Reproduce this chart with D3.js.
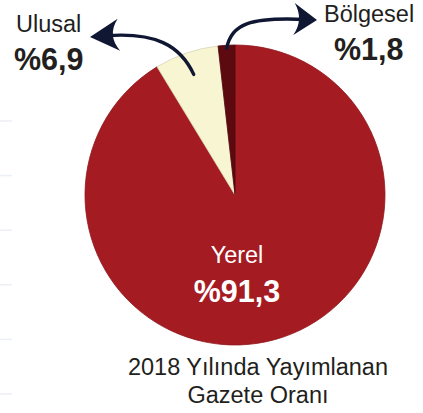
<!DOCTYPE html>
<html lang="tr">
  <head>
    <meta charset="utf-8" />
    <title>2018 Yılında Yayımlanan Gazete Oranı</title>
    <script src="https://d3js.org/d3.v7.min.js"></script>
    <style>
      body { margin: 0; background: #fff; }
      text { font-family: "Liberation Sans", Arial, sans-serif; fill: #231f20; }
      .name { font-size: 23.5px; }
      .pct { font-size: 30.5px; font-weight: bold; }
      .caption { font-size: 23.5px; }
      .faint { stroke: #eceff5; stroke-width: 1.5; }
    </style>
  </head>
  <body>
    <svg width="423" height="413"></svg>
    <script>
      // data, clockwise from 12 o'clock
      const categories = ["Yerel", "Ulusal", "Bölgesel"];
      const shares = [91.3, 6.9, 1.8];
      const labels = ["%91,3", "%6,9", "%1,8"];
      const colours = ["#a51b22", "#f8f5d2", "#5c0a10"];

      const width = 423, height = 413;
      const cx = 235, cy = 195, radius = 150;

      const svg = d3.select("svg");

      // faint leftover gridline stubs on the left edge
      const yFaint = d3.scaleLinear().domain([0, 5]).range([121, 394]);
      svg.append("g")
        .selectAll("line")
        .data(d3.range(6))
        .join("line")
        .attr("class", "faint")
        .attr("x1", 0)
        .attr("x2", 12)
        .attr("y1", d => yFaint(d))
        .attr("y2", d => yFaint(d));

      const data = categories.map((c, i) => ({ name: c, value: shares[i], label: labels[i], colour: colours[i] }));

      const pie = d3.pie().sort(null).value(d => d.value);
      const arcs = pie(data);
      const arc = d3.arc().innerRadius(0).outerRadius(radius);

      const g = svg.append("g").attr("transform", `translate(${cx},${cy})`);
      g.selectAll("path")
        .data(arcs)
        .join("path")
        .attr("d", arc)
        .attr("fill", d => d.data.colour)
        .attr("stroke", d => d3.color(d.data.colour).darker(0.4))
        .attr("stroke-width", 0.8);

      // point on the pie for a given slice, at fraction of radius
      function piePoint(a, f) {
        const ang = (a.startAngle + a.endAngle) / 2;
        return [cx + Math.sin(ang) * radius * f, cy - Math.cos(ang) * radius * f];
      }

      const arrowColour = "#0f1733";
      // curved arrow: cubic from start to tip, swept arrowhead at tip
      function drawArrow(start, c1, c2, tip, headLen, halfW) {
        const dx = tip[0] - c2[0], dy = tip[1] - c2[1];
        const len = Math.hypot(dx, dy);
        const ux = dx / len, uy = dy / len;
        const px = -uy, py = ux;
        const notch = [tip[0] - ux * headLen * 0.65, tip[1] - uy * headLen * 0.65];
        const b1 = [tip[0] - ux * headLen + px * halfW, tip[1] - uy * headLen + py * halfW];
        const b2 = [tip[0] - ux * headLen - px * halfW, tip[1] - uy * headLen - py * halfW];
        svg.append("path")
          .attr("d", `M${start}C${c1} ${c2} ${notch[0] + ux * 3},${notch[1] + uy * 3}`)
          .attr("fill", "none")
          .attr("stroke", arrowColour)
          .attr("stroke-width", 3.4)
          .attr("stroke-linecap", "round");
        svg.append("path")
          .attr("d", `M${tip}L${b1}Q${notch[0] + ux * 2},${notch[1] + uy * 2} ${b2}Z`)
          .attr("fill", arrowColour);
      }

      drawArrow(piePoint(arcs[1], 0.85), [180, 45], [155, 32], [90, 37], 29, 16);
      drawArrow(piePoint(arcs[2], 0.98), [231, 24], [250, 17], [317, 20], 23, 16);

      // outside labels
      svg.append("text").attr("class", "name").attr("x", 16).attr("y", 32).text(categories[1]);
      svg.append("text").attr("class", "pct").attr("x", 14).attr("y", 70).text(labels[1]);
      svg.append("text").attr("class", "name").attr("x", 324).attr("y", 22).text(categories[2]);
      svg.append("text").attr("class", "pct").attr("x", 334).attr("y", 60).text(labels[2]);

      // inside label
      svg.append("text").attr("class", "name").attr("x", 237).attr("y", 263)
        .attr("text-anchor", "middle").style("fill", "#fff").text(categories[0]);
      svg.append("text").attr("class", "pct").attr("x", 237).attr("y", 302)
        .attr("text-anchor", "middle").style("fill", "#fff").text(labels[0]);

      // caption
      svg.append("text").attr("class", "caption").attr("x", 258).attr("y", 375)
        .attr("text-anchor", "middle").text("2018 Yılında Yayımlanan");
      svg.append("text").attr("class", "caption").attr("x", 258).attr("y", 403)
        .attr("text-anchor", "middle").text("Gazete Oranı");
    </script>
  </body>
</html>
